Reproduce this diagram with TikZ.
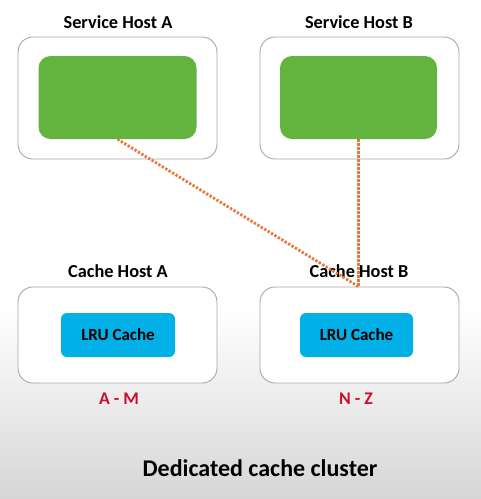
\documentclass[tikz,border=0pt]{standalone}
\usepackage{fontspec}
\setmainfont{Carlito}
\definecolor{hostgreen}{HTML}{62B43F}
\definecolor{cacheblue}{HTML}{00B0E6}
\definecolor{rangered}{HTML}{C8102E}
\definecolor{dotorange}{HTML}{E8773A}
\definecolor{boxgray}{HTML}{A6A6A6}
\begin{document}
\begin{tikzpicture}[x=1pt,y=-1pt,
  hostbox/.style={draw=boxgray,line width=0.9pt,fill=white,rounded corners=15pt,minimum width=199pt,inner sep=0pt},
  service/.style={fill=hostgreen,rounded corners=12pt,minimum width=158pt,minimum height=83pt,inner sep=0pt},
  lru/.style={fill=cacheblue,rounded corners=6pt,minimum width=114pt,minimum height=44pt,inner sep=0pt,font=\fontsize{17}{20}\selectfont\bfseries},
  title/.style={font=\fontsize{18.3}{21}\selectfont\bfseries,inner sep=0pt},
  keyrange/.style={font=\fontsize{17.8}{21}\selectfont\bfseries,text=rangered,inner sep=0pt},
  link/.style={draw=dotorange,line width=2.8pt,dash pattern=on 2.3pt off 1.7pt}
]
\useasboundingbox (0,0) rectangle (481,499);
\fill[white] (0,0) rectangle (481,311);
\shade[top color=white,bottom color=black!16] (0,310) rectangle (481,499);

\node[hostbox,minimum height=122pt] (hA) at (117.5,98) {};
\node[hostbox,minimum height=122pt] (hB) at (359.5,98) {};
\node[service] (gA) at (117.5,97.5) {};
\node[service,minimum width=157pt] (gB) at (358.5,97.5) {};
\node[title] (tA) at (118,22) {Service Host A};
\node[title] (tB) at (359,22) {Service Host B};

\node[hostbox,minimum height=96pt] (cA) at (117.5,335) {};
\node[hostbox,minimum height=96pt] (cB) at (359.5,335) {};
\node[lru] (lA) at (118,335) {LRU Cache};
\node[lru,minimum width=113pt] (lB) at (356.5,335) {LRU Cache};
\node[title] (ctA) at (118,271) {Cache Host A};
\node[title] (ctB) at (359,271) {Cache Host B};
\node[keyrange] (rA) at (119,399) {A - M};
\node[keyrange] (rB) at (356,399) {N - Z};
\node[font=\fontsize{24}{28}\selectfont\bfseries,inner sep=0pt] (cap) at (260,468) {Dedicated cache cluster};

\draw[link] (gA.south) -- (gB.south |- cB.north);
\draw[link] (gB.south) -- (gB.south |- cB.north);
\end{tikzpicture}
\end{document}
